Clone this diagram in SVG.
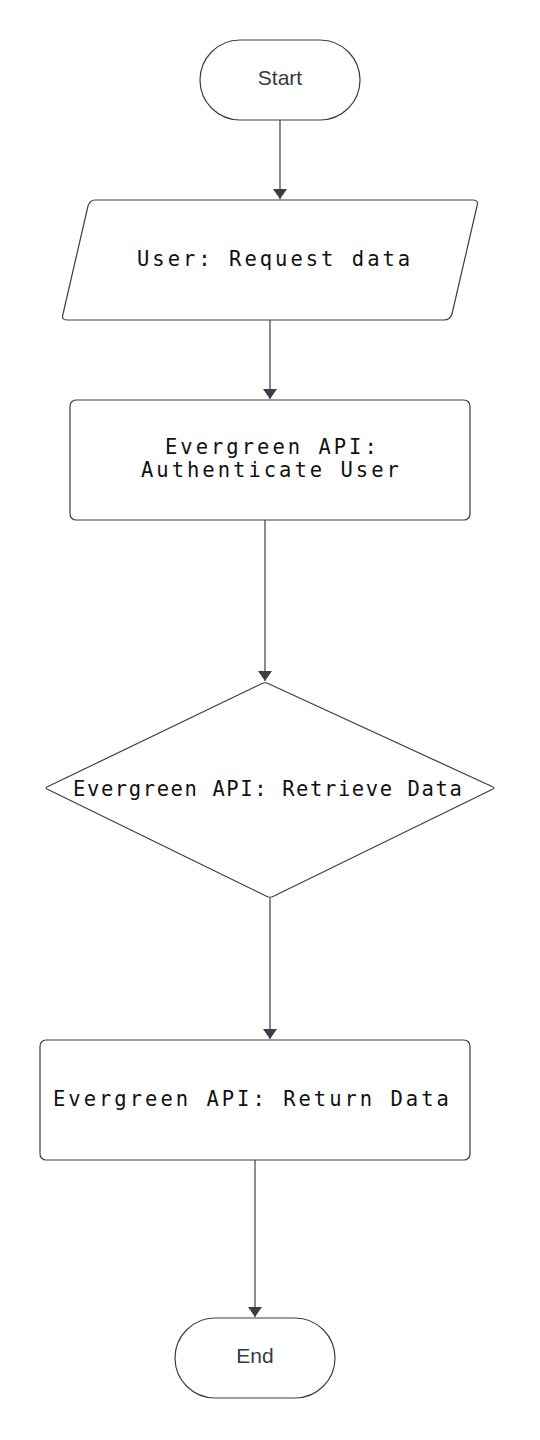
<svg xmlns="http://www.w3.org/2000/svg" width="540" height="1440" viewBox="0 0 540 1440">
<style>
.shape{fill:#ffffff;stroke:#3a3f47;stroke-width:1.2;stroke-linejoin:round}
.edge{fill:none;stroke:#3a3f47;stroke-width:1.2}
.sans{font-family:"Liberation Sans",Arial,sans-serif;font-size:21px;fill:#333a45}
.mono{font-family:"DejaVu Sans Mono","Liberation Mono",monospace;font-size:20.5px;letter-spacing:3px;fill:#111111}
.tight{letter-spacing:1.6px}
</style>
<defs>
<marker id="arr" viewBox="0 0 10 14" refX="10" refY="7" markerWidth="10" markerHeight="14" markerUnits="userSpaceOnUse" orient="auto">
<path d="M0,0 L10,7 L0,14 Z" fill="#3a3f47"/>
</marker>
</defs>
<rect width="540" height="1440" fill="#ffffff"/>
<g id="connectors">
<line class="edge" x1="280" y1="120" x2="280" y2="199" marker-end="url(#arr)"/>
<line class="edge" x1="270" y1="320" x2="270" y2="399" marker-end="url(#arr)"/>
<line class="edge" x1="265" y1="520" x2="265" y2="681" marker-end="url(#arr)"/>
<line class="edge" x1="270" y1="898" x2="270" y2="1039" marker-end="url(#arr)"/>
<line class="edge" x1="255" y1="1160" x2="255" y2="1317" marker-end="url(#arr)"/>
</g>
<g id="start">
<rect class="shape" x="200" y="40" width="160" height="80" rx="40" ry="40"/>
<text class="sans" x="280" y="85" text-anchor="middle">Start</text>
</g>
<g id="request">
<path class="shape" d="M95,200 L473,200 Q479,200 477,206 L452,314 Q450,320 444,320 L67,320 Q61,320 63,314 L88,206 Q90,200 95,200 Z"/>
<text class="mono" x="137" y="266">User: Request data</text>
</g>
<g id="authenticate">
<rect class="shape" x="70" y="400" width="400" height="120" rx="6" ry="6"/>
<text class="mono" x="165" y="454">Evergreen API:</text>
<text class="mono" x="141" y="477">Authenticate User</text>
</g>
<g id="retrieve">
<path class="shape" d="M262,683.5 Q265,682 268,683.5 L492,786.5 Q496,788 492,789.5 L273,896.5 Q270,898 267,896.5 L48,789.5 Q44,788 48,786.5 Z"/>
<text class="mono tight" x="73" y="796">Evergreen API: Retrieve Data</text>
</g>
<g id="return">
<rect class="shape" x="40" y="1040" width="430" height="120" rx="6" ry="6"/>
<text class="mono" x="53" y="1106">Evergreen API: Return Data</text>
</g>
<g id="end">
<rect class="shape" x="175" y="1318" width="160" height="80" rx="40" ry="40"/>
<text class="sans" x="255" y="1363" text-anchor="middle">End</text>
</g>
</svg>
